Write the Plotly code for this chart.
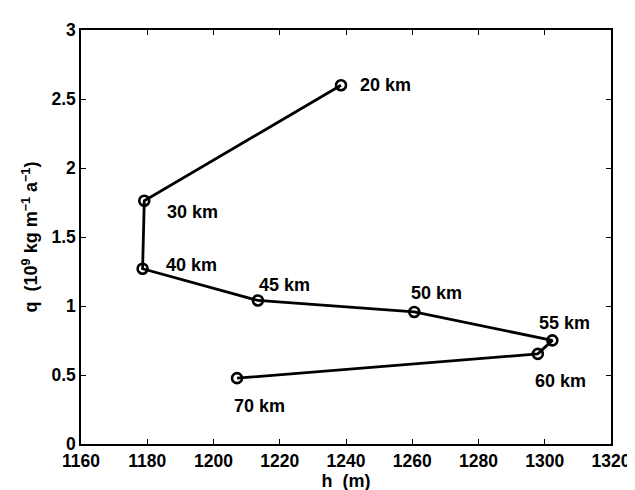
import plotly.graph_objects as go

h_m = [1238.5, 1179.1, 1178.6, 1213.4, 1260.6, 1302.3, 1297.9, 1207.1]
q_val = [2.60, 1.763, 1.27, 1.04, 0.957, 0.751, 0.653, 0.477]
labels = ["20 km", "30 km", "40 km", "45 km", "50 km", "55 km", "60 km", "70 km"]
x_ticks = [1160, 1180, 1200, 1220, 1240, 1260, 1280, 1300, 1320]
y_ticks = [0, 0.5, 1, 1.5, 2, 2.5, 3]

# label pixel offsets (left edge x offset, vertical offset upward)
label_shifts = [(17, 0), (21, -11), (21, 4), (-1, 15), (-5, 19), (-15, 17), (-5, -27), (-5, -28)]

FONT = "Liberation Sans, Arial, sans-serif"
NB = "\u00a0"

fig = go.Figure()
fig.add_trace(go.Scatter(
    x=h_m, y=q_val, mode="lines+markers",
    line=dict(color="black", width=2.8),
    marker=dict(symbol="circle-open", size=10, color="black", line=dict(width=2.6, color="black")),
    showlegend=False, hoverinfo="skip",
))

for x, y, t, (dx, dy) in zip(h_m, q_val, labels, label_shifts):
    fig.add_annotation(x=x, y=y, text="<b>" + t.replace(" ", NB) + "</b>", showarrow=False,
                       xanchor="left", yanchor="middle", xshift=dx, yshift=dy,
                       font=dict(family=FONT, size=18, color="black", weight="bold"))

axis_common = dict(
    showgrid=False, zeroline=False, showline=True, linecolor="black", linewidth=1.5,
    mirror="ticks", ticks="inside", ticklen=5, tickwidth=1, tickcolor="black",
    tickfont=dict(family=FONT, size=17.5, color="black", weight="bold"),
)

fig.update_layout(
    width=635, height=490,
    margin=dict(l=73, r=21, t=15, b=49),
    paper_bgcolor="white", plot_bgcolor="white",
    xaxis=dict(range=[1160, 1320], tickvals=x_ticks,
               ticktext=["<b>%d</b>" % v for v in x_ticks],
               title=dict(text="<b>h" + NB + NB + "(m)</b>",
                          font=dict(family=FONT, size=18, color="black", weight="bold"), standoff=3),
               **axis_common),
    yaxis=dict(range=[0, 3], tickvals=y_ticks,
               ticktext=["<b>%g</b>" % v for v in y_ticks],
               title=dict(text="<b>q" + NB + NB + "(10<sup>9</sup>" + NB + "kg" + NB + "m<sup>−1</sup>" + NB + "a<sup>−1</sup>)</b>",
                          font=dict(family=FONT, size=18, color="black", weight="bold"), standoff=9),
               **axis_common),
)

fig.write_html("out.html")
